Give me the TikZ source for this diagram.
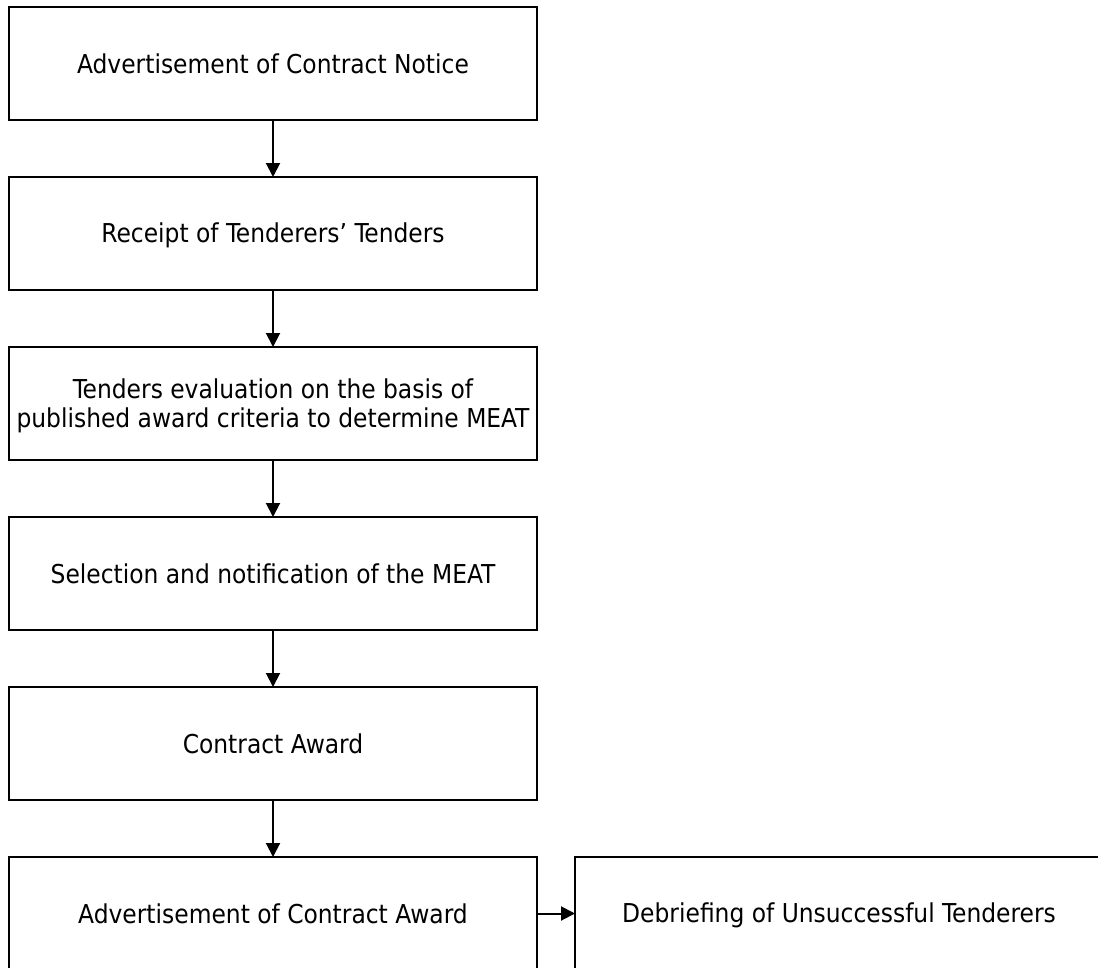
\documentclass[tikz,border=0pt]{standalone}
\usepackage{fontspec}
\setmainfont{DejaVu Sans Condensed}
\usetikzlibrary{arrows.meta}
% fixed-size strut so every label is centred on its capitals
\newcommand{\lblstrut}{\vrule width 0pt height 24pt depth 5pt}
\begin{document}
\begin{tikzpicture}[x=1pt,y=-1pt,
  stagebox/.style={draw=black, line width=2pt, minimum width=528pt, minimum height=113pt,
    inner sep=0pt, outer sep=0pt, align=center,
    font=\fontsize{26}{29}\selectfont},
  flow/.style={line width=2pt, -{Triangle[length=14pt,width=14pt]}}]
  \useasboundingbox (0,0) rectangle (1098,967);
  \clip (0,0) rectangle (1098,967);
  \node[stagebox] (notice)   at (273,63.5)  {\lblstrut Advertisement of Contract Notice};
  \node[stagebox] (receipt)  at (273,233.5) {\lblstrut Receipt of Tenderers’ Tenders};
  \node[stagebox] (evaluate) at (273,403.5) {\lblstrut Tenders evaluation on the basis of\\\lblstrut published award criteria to determine MEAT};
  \node[stagebox] (select)   at (273,573.5) {\lblstrut Selection and notification of the MEAT};
  \node[stagebox] (award)    at (273,743.5) {\lblstrut Contract Award};
  \node[stagebox] (advert)   at (273,913.5) {\lblstrut Advertisement of Contract Award};
  \node[stagebox] (debrief)  at (839,913.5) {\lblstrut Debriefing of Unsuccessful Tenderers};
  \draw[flow] (notice)   -- (receipt);
  \draw[flow] (receipt)  -- (evaluate);
  \draw[flow] (evaluate) -- (select);
  \draw[flow] (select)   -- (award);
  \draw[flow] (award)    -- (advert);
  \draw[flow] (advert)   -- (debrief);
\end{tikzpicture}
\end{document}
